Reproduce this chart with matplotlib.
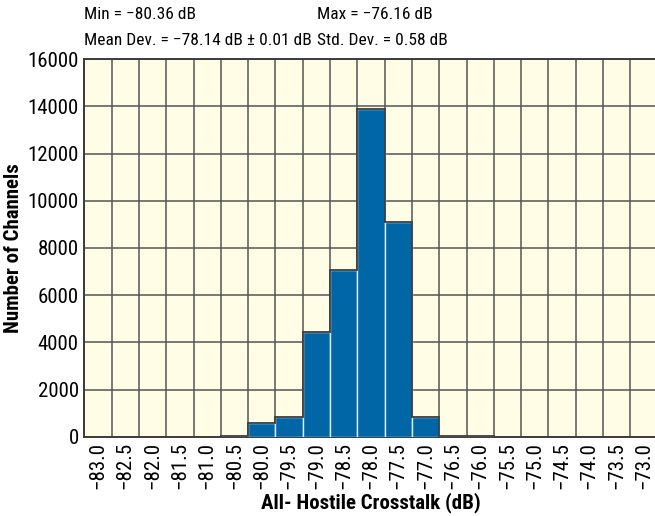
import numpy as np
import matplotlib
matplotlib.use("Agg")
import matplotlib.pyplot as plt
from matplotlib import font_manager

# crosstalk bins (centre of each 0.5 dB cell) and channel counts
bins = [-83.0, -82.5, -82.0, -81.5, -81.0, -80.5, -80.0, -79.5, -79.0, -78.5,
        -78.0, -77.5, -77.0, -76.5, -76.0, -75.5, -75.0, -74.5, -74.0, -73.5,
        -73.0]
counts = [0, 0, 0, 0, 0, 15, 570, 820, 4440, 7070, 13900, 9110, 825, 30, 25,
          0, 0, 0, 0, 0, 0]
tick_labels = ["\u2212%.1f" % abs(v) for v in bins]
stats = ["Min = \u221280.36 dB", "Max = \u221276.16 dB",
         "Mean Dev. = \u221278.14 dB \u00b1 0.01 dB", "Std. Dev. = 0.58 dB"]

names = {f.name for f in font_manager.fontManager.ttflist}
narrow = [n for n in ['Liberation Sans Narrow', 'DejaVu Sans Condensed',
                      'Roboto Condensed', 'Open Sans Condensed'] if n in names]
plt.rcParams['font.family'] = narrow + ['DejaVu Sans']
plt.rcParams['font.stretch'] = 'condensed'
plt.rcParams['font.size'] = 15

fig = plt.figure(figsize=(6.55, 5.16), dpi=100)
ax = fig.add_axes([0.1289, 0.1537, 0.875, 0.7314])
ax.set_facecolor('#fffde6')

edges = np.append(np.array(bins) - 0.25, bins[-1] + 0.25)
ax.bar(bins, counts, width=0.5, color='#0066a6',
       edgecolor='#dcecf5', linewidth=1.0, zorder=3)
# dark outline round the histogram
ax.stairs(counts, edges, color='#3c3c3c', linewidth=1.3, zorder=4)

ax.set_xlim(edges[0], edges[-1])
ax.set_ylim(0, 16000)
ax.set_xticks(bins)
ax.set_xticklabels(tick_labels, rotation=90)
ax.set_xticks(edges, minor=True)
ax.set_yticks(np.arange(0, 16001, 2000))
ax.grid(False)
ax.grid(True, which='minor', axis='x', color='#555555', linewidth=1.1, zorder=1)
ax.grid(True, which='major', axis='y', color='#555555', linewidth=1.1, zorder=1)
ax.tick_params(which='both', length=0, pad=4)
for s in ax.spines.values():
    s.set_color('#3c3c3c')
    s.set_linewidth(1.4)

ax.set_xlabel('All- Hostile Crosstalk (dB)', fontweight='bold', labelpad=2)
ax.set_ylabel('Number of Channels', fontweight='bold', labelpad=3)

t_min = fig.text(0.1289, 0.971, stats[0], va='center', fontsize=12.5)
t_mean = fig.text(0.1289, 0.921, stats[2], va='center', fontsize=12.5)
fig.canvas.draw()
bb = t_mean.get_window_extent()
x2 = max(0.42, (bb.x1 + 5) / fig.bbox.width)
fig.text(x2, 0.971, stats[1], va='center', fontsize=12.5)
fig.text(x2, 0.921, stats[3], va='center', fontsize=12.5)

fig.savefig('out.png', dpi=100)
